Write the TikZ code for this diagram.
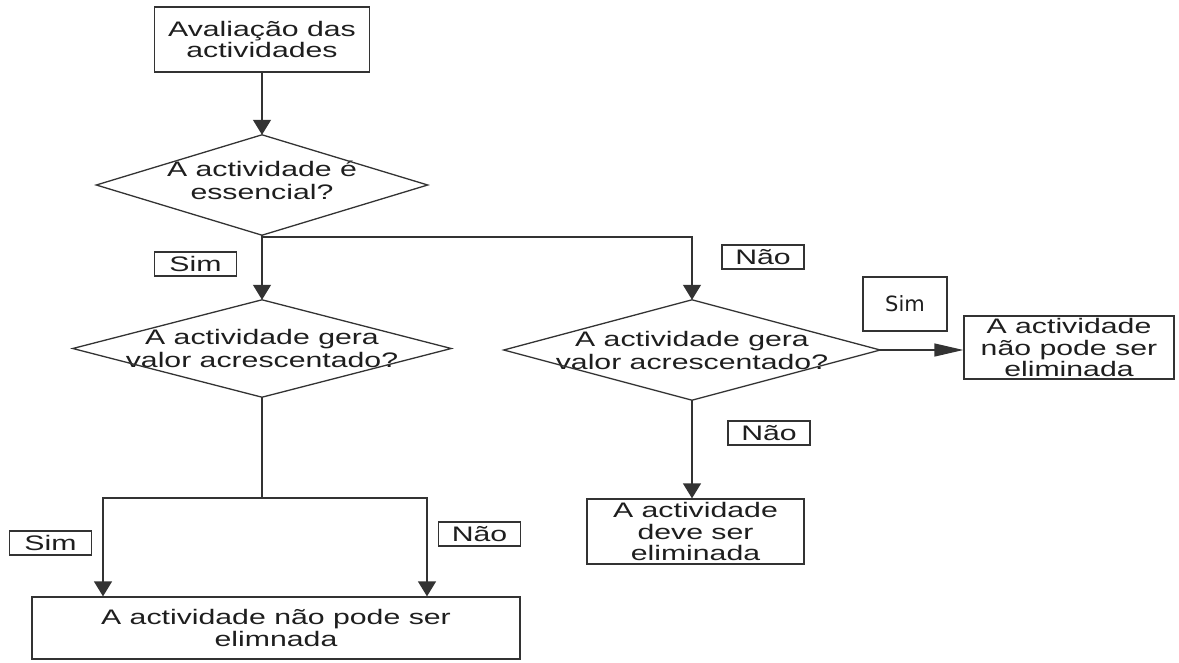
\documentclass[tikz,border=0pt]{standalone}
\usepackage{fontspec}
\setmainfont{Liberation Sans}[FakeStretch=1.44]
\newfontfamily\tagfont{DejaVu Sans}
\usetikzlibrary{arrows.meta}
\definecolor{ink}{HTML}{1E1E1E}
\definecolor{edge}{HTML}{333333}
\begin{document}
\begin{tikzpicture}[x=1pt,y=-1pt,
  every node/.style={text=ink, font=\fontsize{21}{21.5}\selectfont},
  box/.style={draw=edge, line width=1.3pt, align=center, inner sep=0pt},
  decision/.style={inner sep=0pt, align=center, font=\fontsize{21}{23}\selectfont},
  answer/.style={draw=edge, line width=1.3pt, inner sep=0pt,
                 minimum width=82pt, minimum height=24pt},
  flow/.style={draw=edge, line width=1.3pt},
  down/.style={flow, -{Triangle[length=15pt,width=18pt]}},
  side/.style={flow, -{Triangle[length=29pt,width=13pt]}},
]
\fill[white] (0,0) rectangle (1179,662);
\useasboundingbox (0,0) rectangle (1179,662);

% process boxes
\node[box, minimum width=215pt, minimum height=65pt] (start) at (262,39.5)
  {Avaliação das\\actividades};
\node[box, minimum width=210pt, minimum height=63pt] (rb) at (1069,347.5)
  {A actividade\\não pode ser\\eliminada};
\node[box, minimum width=217pt, minimum height=65pt] (dv) at (695.5,531.5)
  {A actividade\\deve ser\\eliminada};
\node[box, minimum width=488pt, minimum height=62pt] (bot) at (276,628)
  {A actividade não pode ser\\elimnada};

% decisions
\node[decision, minimum width=331pt, minimum height=100pt] (d1) at (262,185) {};
\node[decision] (d1t) at (262,180) {A actividade é\\essencial?};
\node[decision, minimum width=378pt, minimum height=97pt] (d2) at (262,348.5)
  {A actividade gera\\valor acrescentado?};
\node[decision, minimum width=376pt, minimum height=100pt] (d3) at (692,350)
  {A actividade gera\\valor acrescentado?};
\foreach \d in {d1,d2,d3}
  \draw[flow] (\d.north) -- (\d.east) -- (\d.south) -- (\d.west) -- cycle;

% answer tags
\node[answer] (sim1) at (195.5,264) {Sim};
\node[answer] (nao1) at (763,257) {Não};
\node[answer] (nao2) at (769,433) {Não};
\node[answer] (sim2) at (50.5,543) {Sim};
\node[answer] (nao3) at (479.5,534) {Não};
\node[draw=edge, line width=1.4pt, inner sep=0pt, minimum width=84pt,
      minimum height=54pt, font=\tagfont\fontsize{21}{21}\selectfont]
  (sim3) at (905,304) {Sim};

% connectors
\coordinate (fork) at (262,237);
\coordinate (join) at (262,498);
\coordinate (lft) at (103,498);
\coordinate (rgt) at (427,498);

\draw[down] (start.south) -- (d1.north);
\draw[down] (d1.south) -- (d2.north);
\draw[down] (fork) -| (d3.north);
\draw[flow] (d2.south) -- (join);
\draw[down] (join) -- (lft) -- (lft |- bot.north);
\draw[down] (join) -- (rgt) -- (rgt |- bot.north);
\draw[side] (d3.east) -- (d3.east -| rb.west);
\draw[down] (d3.south) -- (d3.south |- dv.north);
\end{tikzpicture}
\end{document}
